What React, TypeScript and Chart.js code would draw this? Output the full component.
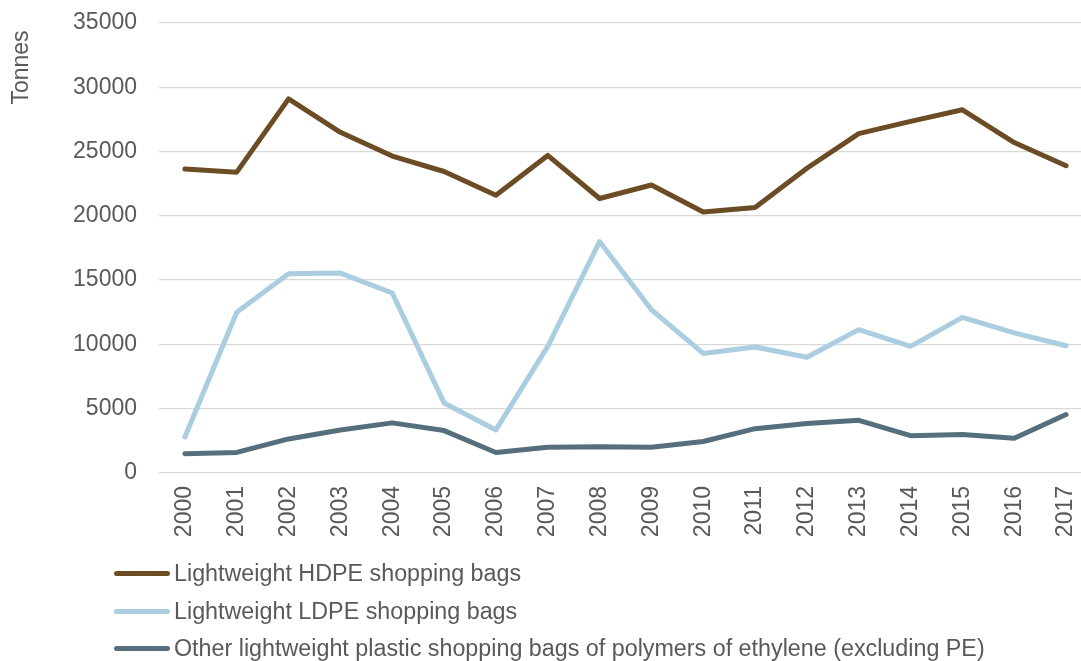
import React, { useEffect, useRef } from "react";
import { Chart, registerables } from "chart.js";

Chart.register(...registerables);

const years = ["2000", "2001", "2002", "2003", "2004", "2005", "2006", "2007", "2008", "2009", "2010", "2011", "2012", "2013", "2014", "2015", "2016", "2017"];
const hdpeValues = [23650, 23400, 29100, 26500, 24650, 23450, 21600, 24700, 21350, 22400, 20300, 20650, 23700, 26400, 27350, 28250, 25700, 23900];
const ldpeValues = [2800, 12500, 15500, 15550, 14000, 5450, 3350, 9850, 18000, 12700, 9300, 9800, 9000, 11150, 9850, 12100, 10900, 9900];
const otherValues = [1500, 1600, 2650, 3350, 3900, 3300, 1600, 2000, 2050, 2000, 2450, 3450, 3850, 4100, 2900, 3000, 2700, 4550];
const seriesNames = [
  "Lightweight HDPE shopping bags",
  "Lightweight LDPE shopping bags",
  "Other lightweight plastic shopping bags of polymers of ethylene (excluding PE)",
];
const seriesColors = ["#6B4C24", "#AACDDF", "#566F7C"];
const yAxisTitle = "Tonnes";

const FONT = "'Liberation Sans', Arial, sans-serif";
const TEXT_COLOR = "#595959";

const titlePlugin = {
  id: "yTitle",
  afterDraw(chart: any) {
    const ctx = chart.ctx;
    ctx.save();
    ctx.translate(22, 67.5);
    ctx.rotate(-Math.PI / 2);
    ctx.font = `23px ${FONT}`;
    ctx.fillStyle = TEXT_COLOR;
    ctx.textAlign = "center";
    ctx.textBaseline = "middle";
    ctx.fillText(yAxisTitle, 0, 0);
    ctx.restore();
  },
};

export default function App() {
  const canvasRef = useRef<HTMLCanvasElement | null>(null);

  useEffect(() => {
    if (!canvasRef.current) return;
    const values = [hdpeValues, ldpeValues, otherValues];
    const chart = new Chart(canvasRef.current, {
      type: "line",
      data: {
        labels: years,
        datasets: values.map((v, i) => ({
          label: seriesNames[i],
          data: v,
          borderColor: seriesColors[i],
          backgroundColor: seriesColors[i],
          borderWidth: 5,
          pointRadius: 0,
          borderCapStyle: "round" as const,
          borderJoinStyle: "round" as const,
          tension: 0,
        })),
      },
      options: {
        responsive: false,
        animation: false,
        layout: { padding: { top: 23, right: 18, left: 0, bottom: 0 } },
        plugins: {
          legend: { display: false },
          tooltip: { enabled: false },
        },
        scales: {
          x: {
            offset: true,
            grid: { display: false, drawTicks: false },
            border: { display: false },
            ticks: {
              color: TEXT_COLOR,
              font: { family: FONT, size: 23 },
              minRotation: 90,
              maxRotation: 90,
              padding: 13,
              autoSkip: false,
            },
            afterFit: (scale: any) => {
              scale.height = 188;
            },
          },
          y: {
            min: 0,
            max: 35000,
            grid: { color: "#D9D9D9", lineWidth: 1.3, drawTicks: false },
            border: { display: false },
            ticks: {
              stepSize: 5000,
              color: TEXT_COLOR,
              font: { family: FONT, size: 23 },
              padding: 22,
              callback: (v: any) => String(v),
            },
            afterFit: (scale: any) => {
              scale.width = 159;
              scale.paddingTop = 0;
              scale.paddingBottom = 0;
            },
          },
        },
      },
      plugins: [titlePlugin],
    });
    return () => chart.destroy();
  }, []);

  const rowCenters = [573, 611, 648];

  return (
    <div style={{ position: "fixed", left: 0, top: 0, width: 1081, height: 661, overflow: "hidden", background: "#fff" }}>
      <canvas ref={canvasRef} width={1110} height={661} style={{ position: "absolute", left: 0, top: 0, width: 1110, height: 661 }} />
      {seriesNames.map((name, i) => (
        <div key={name} style={{ position: "absolute", left: 114, top: rowCenters[i] - 15, height: 30, display: "flex", alignItems: "center", whiteSpace: "nowrap" }}>
          <span style={{ display: "inline-block", width: 56, height: 5, borderRadius: 3, background: seriesColors[i] }} />
          <span style={{ marginLeft: 4, fontFamily: FONT, fontSize: 23.3, color: TEXT_COLOR, lineHeight: "30px" }}>{name}</span>
        </div>
      ))}
    </div>
  );
}
